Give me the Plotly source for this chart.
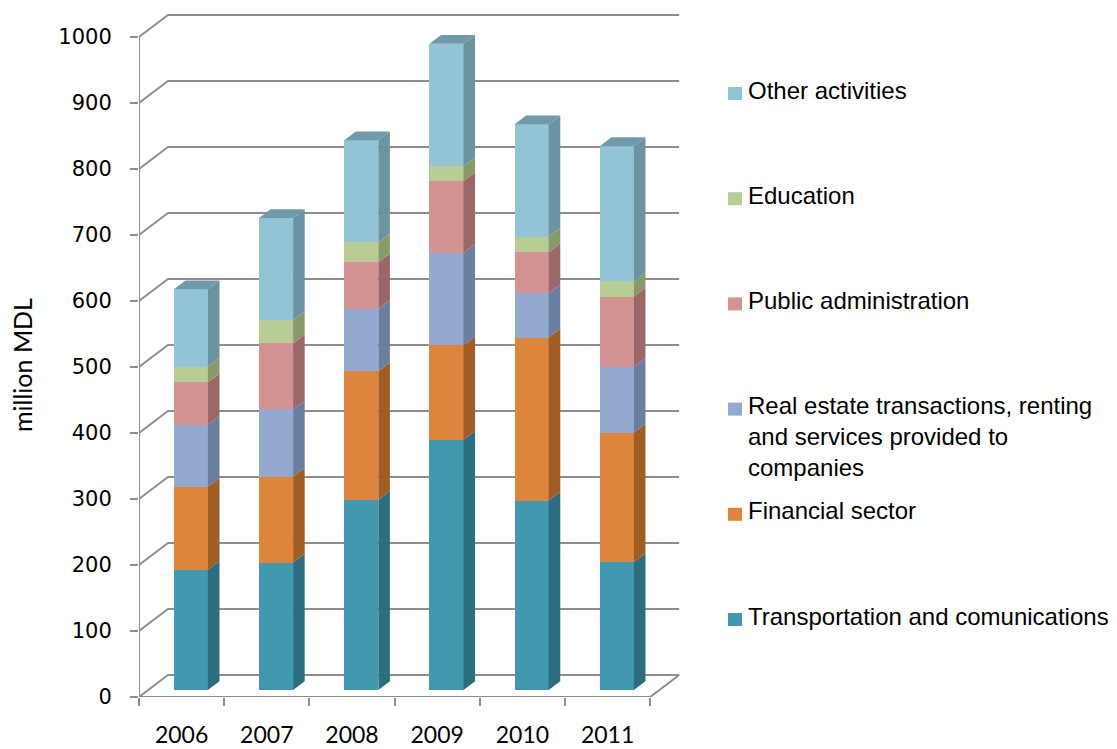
import plotly.graph_objects as go

# ---- data (million MDL) ----
years = ["2006", "2007", "2008", "2009", "2010", "2011"]
transport = [182, 193, 288, 379, 287, 194]
financial = [126, 130, 195, 143, 247, 196]
real_estate = [94, 102, 94, 140, 67, 99]
public_admin = [64, 100, 71, 109, 62, 107]
education = [24, 35, 30, 23, 24, 23]
other = [117, 155, 155, 185, 170, 205]

series_names = [
    "Transportation and comunications",
    "Financial sector",
    "Real estate transactions, renting<br>and services provided to<br>companies",
    "Public administration",
    "Education",
    "Other activities",
]
series_values = [transport, financial, real_estate, public_admin, education, other]
front_colors = ["#4198AF", "#DD853C", "#93A9CF", "#D39392", "#B8CC95", "#93C4D6"]
side_colors = ["#2C6E80", "#A25D25", "#6B7EA0", "#9C6768", "#889A6A", "#6C93A2"]
top_color = "#7099AA"

y_ticks = list(range(0, 1001, 100))

# ---- pseudo-3D geometry (axis units) ----
WALL_DX, WALL_DY = 0.34, 33.3          # depth of the chart box
BAR_POS = 0.32                          # depth fraction where bars stand
BAR_W = 0.40                            # front-face width
BAR_DEPTH = 0.40                        # bar depth as fraction of box depth
bar_dx, bar_dy = WALL_DX * BAR_DEPTH, WALL_DY * BAR_DEPTH
shift_x, shift_y = WALL_DX * BAR_POS, WALL_DY * BAR_POS

X_MIN, X_MAX = -0.5, 5.85
Y_MIN, Y_MAX = 0, 1050

# layout in pixels
W, H = 1117, 749
ML, MB, MT = 139, 52, 4
PW = 541
MR = W - ML - PW
PH = H - MB - MT


def px2x(px):
    return (px - ML) / PW


def py2y(py):
    return (H - MB - py) / PH


fig = go.Figure()

n = len(years)
xs = list(range(n))

# front faces of stacked columns
cum = [0.0] * n
segments = []
for name, vals, fc in zip(series_names, series_values, front_colors):
    bases = [shift_y + c for c in cum]
    fig.add_trace(go.Bar(
        x=[i + shift_x for i in xs], y=vals, base=bases, width=BAR_W,
        marker=dict(color=fc, line=dict(width=0)),
        name=name, showlegend=False, hoverinfo="skip",
    ))
    segments.append((bases, vals))
    cum = [c + v for c, v in zip(cum, vals)]

# right side faces
for (bases, vals), sc in zip(segments, side_colors):
    px, py = [], []
    for i in xs:
        xr = i + shift_x + BAR_W / 2
        b, h = bases[i], vals[i]
        px += [xr, xr + bar_dx, xr + bar_dx, xr, xr, None]
        py += [b, b + bar_dy, b + h + bar_dy, b + h, b, None]
    fig.add_trace(go.Scatter(
        x=px, y=py, mode="lines", fill="toself", fillcolor=sc,
        line=dict(width=0, color=sc), showlegend=False, hoverinfo="skip",
    ))

# top faces
px, py = [], []
for i in xs:
    xl = i + shift_x - BAR_W / 2
    xr = i + shift_x + BAR_W / 2
    t = shift_y + cum[i]
    px += [xl, xl + bar_dx, xr + bar_dx, xr, xl, None]
    py += [t, t + bar_dy, t + bar_dy, t, t, None]
fig.add_trace(go.Scatter(
    x=px, y=py, mode="lines", fill="toself", fillcolor=top_color,
    line=dict(width=0, color=top_color), showlegend=False, hoverinfo="skip",
))

# walls: gridlines on side and back wall, floor and vertical axis line
grid_col = "#8E8E8E"
shapes = []
x_front_l, x_front_r = -0.5, n - 0.5
for v in y_ticks:
    shapes.append(dict(
        type="path", xref="x", yref="y", layer="below",
        path=f"M {x_front_l},{v} L {x_front_l + WALL_DX},{v + WALL_DY} L {x_front_r + WALL_DX},{v + WALL_DY}",
        line=dict(color=grid_col, width=2),
    ))
shapes.append(dict(
    type="path", xref="x", yref="y", layer="below",
    path=f"M {x_front_l},0 L {x_front_r},0 L {x_front_r + WALL_DX},{WALL_DY}",
    line=dict(color=grid_col, width=2),
))
shapes.append(dict(
    type="line", xref="x", yref="y", layer="below",
    x0=x_front_l, x1=x_front_l, y0=0, y1=y_ticks[-1],
    line=dict(color=grid_col, width=2),
))

# legend (top entry = top of stack)
annotations = []
legend_font = dict(family="Liberation Sans, Arial, sans-serif", size=24, color="#000000")
for k, (name, fc) in enumerate(zip(reversed(series_names), reversed(front_colors))):
    cy = 91 + 105.2 * k
    annotations.append(dict(
        xref="paper", yref="paper", x=px2x(746), y=py2y(cy - 16.5),
        xanchor="left", yanchor="top", align="left", showarrow=False,
        text=name, font=legend_font,
    ))
    shapes.append(dict(
        type="rect", xref="paper", yref="paper",
        x0=px2x(728), x1=px2x(742), y0=py2y(cy + 9), y1=py2y(cy - 4),
        fillcolor=fc, line=dict(width=0),
    ))

annotations.append(dict(
    xref="paper", yref="paper", x=px2x(22), y=py2y(365),
    xanchor="center", yanchor="middle", textangle=-90, showarrow=False,
    text="million MDL", font=dict(family="Lato, sans-serif", size=25, color="#000000"),
))

fig.update_layout(
    width=W, height=H,
    margin=dict(l=ML, r=MR, t=MT, b=MB, pad=0, autoexpand=False),
    paper_bgcolor="white", plot_bgcolor="white",
    barmode="overlay", bargap=0,
    shapes=shapes, annotations=annotations, showlegend=False,
    xaxis=dict(
        range=[X_MIN, X_MAX], showgrid=False, zeroline=False, showline=False,
        automargin=False,
        tickmode="array", tickvals=xs, ticktext=years, ticks="", ticklen=0,
        ticklabelstandoff=22,
        tickfont=dict(family="Lato, sans-serif", size=23, color="#000000"),
        minor=dict(tick0=-0.5, dtick=1, ticks="outside", ticklen=8, tickwidth=2,
                   tickcolor=grid_col, showgrid=False),
    ),
    yaxis=dict(
        range=[Y_MIN, Y_MAX], showgrid=False, zeroline=False, showline=False,
        automargin=False,
        tickmode="array", tickvals=y_ticks, ticks="outside", ticklen=8, tickwidth=2,
        tickcolor=grid_col, ticklabelstandoff=14,
        tickfont=dict(family="DejaVu Sans, Verdana, sans-serif", size=21, color="#000000"),
    ),
)

fig.write_html("out.html")
